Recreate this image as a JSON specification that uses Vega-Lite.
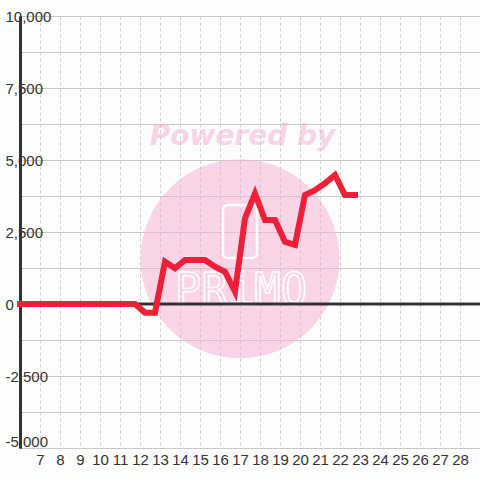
{
  "$schema": "https://vega.github.io/schema/vega-lite/v6.json",
  "width": 460,
  "height": 432,
  "autosize": {"type": "none"},
  "padding": {"left": 20, "top": 16, "right": 0, "bottom": 32},
  "background": "#fcfefc",
  "config": {
    "view": {"stroke": null},
    "font": "Liberation Sans",
    "axisX": {"grid": true, "gridDash": [3, 3], "gridColor": "#cccccc", "domain": false, "ticks": false, "tickSize": 0, "labelPadding": 4, "labelFont": "Liberation Sans", "labelFontSize": 15, "labelColor": "#333333", "labelFlush": false, "labelOverlap": false, "title": null},
    "axisY": {"grid": true, "gridColor": "#c8c8c8", "domain": true, "domainColor": "#333333", "domainWidth": 3, "ticks": false, "tickSize": 0, "labelAlign": "left", "labelBaseline": "middle", "labelPadding": 15, "labelFont": "Liberation Sans", "labelFontSize": 15, "labelColor": "#333333", "labelFlush": false, "labelOverlap": false, "title": null}
  },
  "encoding": {
    "x": {"field": "x", "type": "quantitative", "scale": {"domain": [6, 29], "nice": false, "zero": false},
      "axis": {"values": [7,8,9,10,11,12,13,14,15,16,17,18,19,20,21,22,23,24,25,26,27,28], "format": "d", "labelOverlap": false, "labelFontSize": 15}},
    "y": {"field": "y", "type": "quantitative", "scale": {"domain": [-5000, 10000], "nice": false, "zero": false},
      "axis": {"values": [-5000,-3750,-2500,-1250,0,1250,2500,3750,5000,6250,7500,8750,10000], "labelExpr": "datum.value % 2500 === 0 ? replace(format(datum.value, ','), '\u2212', '-') : ''", "labelOverlap": false, "labelFontSize": 15,
        "labelOffset": {"condition": {"test": "datum.value === -5000", "value": -7}, "value": 0}}}
  },
  "layer": [
    {
      "data": {"values": [{"x": 17.0, "y": 1570}]},
      "mark": {"type": "point", "shape": "circle", "filled": true, "size": 39600, "color": "#f7acd4", "opacity": 0.5}
    },
    {
      "data": {"values": [{"x": 17.125, "y": 5520, "label": "Powered by"}]},
      "mark": {"type": "text", "font": "DejaVu Sans", "fontWeight": "bold", "fontStyle": "italic", "fontSize": 28, "color": "#f7acd4", "opacity": 0.5, "align": "center", "baseline": "alphabetic"},
      "encoding": {"text": {"field": "label"}}
    },
    {
      "data": {"values": [{"x": 16.15, "x2": 17.85, "y": 3437, "y2": 1597}]},
      "mark": {"type": "rect", "fillOpacity": 0, "stroke": "#ffffff", "strokeWidth": 2.5, "cornerRadius": 5},
      "encoding": {"x2": {"field": "x2"}, "y2": {"field": "y2"}}
    },
    {
      "data": {"values": [{"x": 17.05, "y": -30, "label": "PRiMO"}]},
      "mark": {"type": "text", "font": "DejaVu Sans Mono", "fontSize": 44, "fillOpacity": 0, "stroke": "#ffffff", "strokeWidth": 1.5, "align": "center", "baseline": "alphabetic"},
      "encoding": {"text": {"field": "label"}}
    },
    {
      "data": {"values": [{"x": 6, "y": 0}, {"x": 29, "y": 0}]},
      "mark": {"type": "line", "color": "#333333", "strokeWidth": 3}
    },
    {
      "data": {"values": [
        {"x": 6.0, "y": 0}, {"x": 6.25, "y": 0}, {"x": 6.75, "y": 0}, {"x": 7.25, "y": 0}, {"x": 7.75, "y": 0},
        {"x": 8.25, "y": 0}, {"x": 8.75, "y": 0}, {"x": 9.25, "y": 0}, {"x": 9.75, "y": 0}, {"x": 10.25, "y": 0},
        {"x": 10.75, "y": 0}, {"x": 11.25, "y": 0}, {"x": 11.75, "y": 0},
        {"x": 12.25, "y": -300}, {"x": 12.75, "y": -300}, {"x": 13.25, "y": 1470}, {"x": 13.75, "y": 1240},
        {"x": 14.25, "y": 1530}, {"x": 14.75, "y": 1530}, {"x": 15.25, "y": 1530}, {"x": 15.75, "y": 1295},
        {"x": 16.25, "y": 1120}, {"x": 16.75, "y": 430}, {"x": 17.25, "y": 2975}, {"x": 17.75, "y": 3840},
        {"x": 18.25, "y": 2917}, {"x": 18.75, "y": 2917}, {"x": 19.25, "y": 2160}, {"x": 19.75, "y": 2050},
        {"x": 20.25, "y": 3785}, {"x": 20.75, "y": 3950}, {"x": 21.25, "y": 4190}, {"x": 21.75, "y": 4480},
        {"x": 22.25, "y": 3785}, {"x": 22.75, "y": 3785}
      ]},
      "mark": {"type": "line", "color": "#ee2038", "strokeWidth": 6, "strokeCap": "square", "strokeJoin": "miter"}
    }
  ]
}
